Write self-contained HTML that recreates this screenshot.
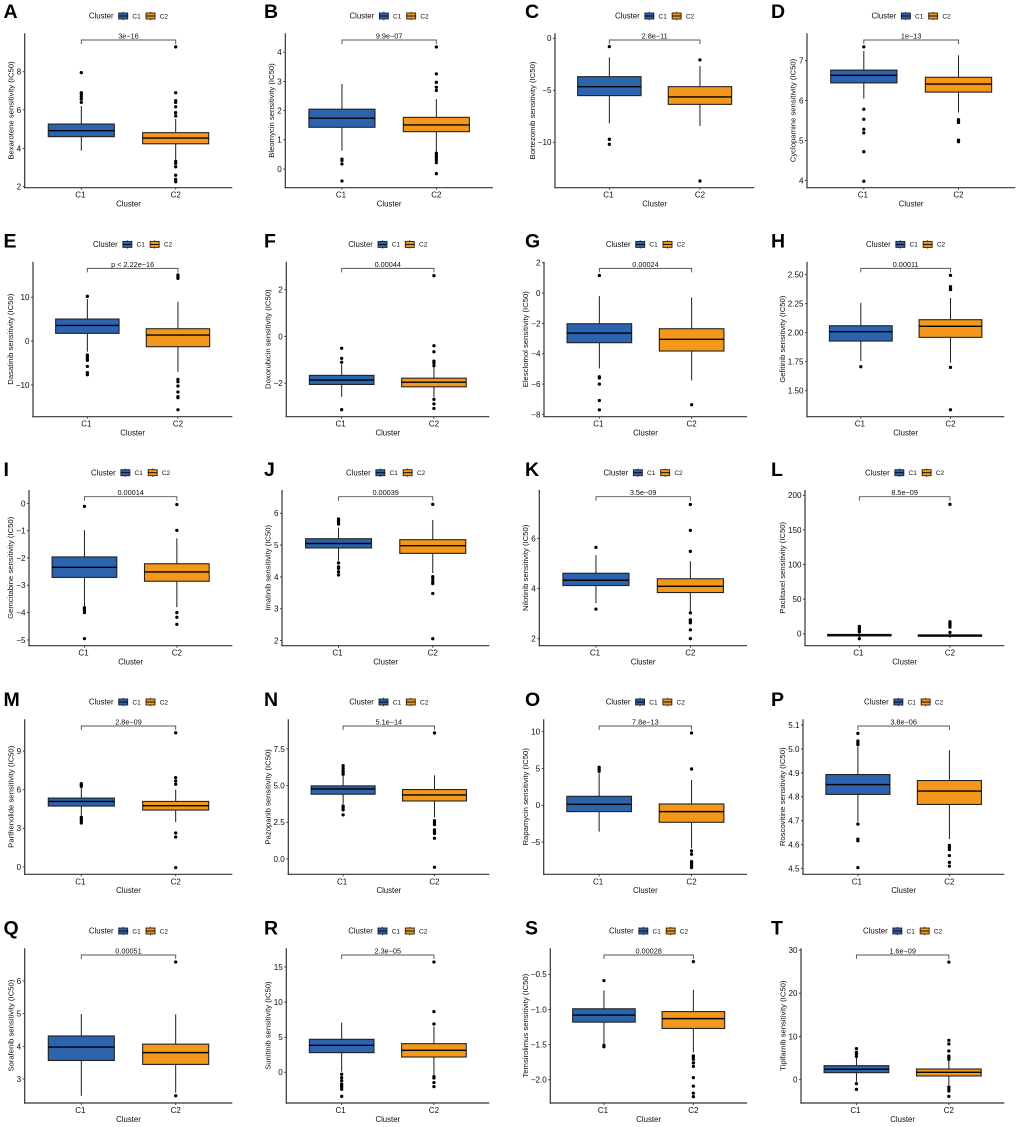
<!DOCTYPE html>
<html lang="en">
<head>
<meta charset="utf-8">
<title>Drug sensitivity (IC50) by cluster</title>
<style>
  html, body { margin: 0; padding: 0; background: #fff; }
  #figure { display: block; width: 1020px; height: 1127px; filter: blur(0.25px); }
  text { font-family: "Liberation Sans", sans-serif; fill: #0d0d0d; }
</style>
</head>
<body>
<svg id="figure" xmlns="http://www.w3.org/2000/svg" width="1020" height="1127" viewBox="0 0 1020 1127"></svg>
<script>
const categories = ['C1', 'C2'];
const panelLetters = ['A','B','C','D','E','F','G','H','I','J','K','L','M','N','O','P','Q','R','S','T'];
const drugNames = ['Bexarotene','Bleomycin','Bortezomib','Cyclopamine','Dasatinib','Doxorubicin','Elesclomol','Gefitinib','Gemcitabine','Imatinib','Nilotinib','Paclitaxel','Parthenolide','Pazopanib','Rapamycin','Roscovitine','Sorafenib','Sunitinib','Temsirolimus','Tipifarnib'];
const pValueLabels = ['3e-16','9.9e-07','2.8e-11','1e-13','p < 2.22e-16','0.00044','0.00024','0.00011','0.00014','0.00039','3.5e-09','8.5e-09','2.8e-09','5.1e-14','7.8e-13','3.8e-06','0.00051','2.3e-05','0.00028','1.6e-09'];
const yDomains = [
  [1.95,10.0],[-0.64,4.65],[-14.36,0.48],[3.82,7.68],
  [-17.26,18.1],[-3.44,3.2],[-8.15,2.07],[1.276,2.612],
  [-5.21,0.49],[1.84,6.73],[1.72,7.93],[-17.3,207.7],
  [-0.57,11.47],[-1.05,9.52],[-9.38,11.69],[4.476,5.124],
  [2.27,7.0],[-4.37,17.66],[-2.33,-0.13],[-5.4,30.4]
];
const yTicks = [
  ['2','4','6','8'],['0','1','2','3','4'],['-10','-5','0'],['4','5','6','7'],
  ['-10','0','10'],['-2','0','2'],['-8','-6','-4','-2','0','2'],['1.50','1.75','2.00','2.25','2.50'],
  ['-5','-4','-3','-2','-1','0'],['2','3','4','5','6'],['2','4','6'],['0','50','100','150','200'],
  ['0','3','6','9'],['0.0','2.5','5.0','7.5'],['-5','0','5','10'],['4.5','4.6','4.7','4.8','4.9','5.0','5.1'],
  ['3','4','5','6'],['0','5','10','15'],['-2.0','-1.5','-1.0','-0.5'],['0','10','20','30']
];
/* five-number summaries: whisker low, q1, median, q3, whisker high */
const c1Stats = [
  [3.88,4.61,4.92,5.27,6.21],[0.63,1.43,1.74,2.05,2.91],[-8.17,-5.51,-4.65,-3.69,-1.83],[6.05,6.44,6.63,6.76,7.24],
  [-2.43,1.75,3.57,5.02,9.58],[-2.59,-2.06,-1.87,-1.67,-1.2],[-4.97,-3.27,-2.64,-2.02,-0.2],[1.756,1.928,2.009,2.06,2.256],
  [-3.78,-2.71,-2.34,-1.96,-0.98],[4.51,4.91,5.05,5.2,5.55],[3.42,4.12,4.33,4.61,5.33],[-5,-3.2,-2,-1,1],
  [3.93,4.73,5.09,5.35,6.13],[3.75,4.41,4.77,4.98,5.66],[-3.58,-0.86,0.14,1.22,4.35],[4.697,4.81,4.851,4.893,5.01],
  [2.49,3.57,3.98,4.32,4.99],[0.09,2.8,3.84,4.7,7.07],[-1.49,-1.18,-1.08,-0.99,-0.73],[-0.46,1.62,2.39,3.24,5.09]
];
const c2Stats = [
  [3.39,4.24,4.54,4.82,5.53],[0.59,1.28,1.51,1.77,2.4],[-8.43,-6.35,-5.64,-4.65,-2.66],[5.7,6.21,6.41,6.58,7.13],
  [-7.0,-1.29,1.37,2.81,8.97],[-2.61,-2.16,-1.96,-1.79,-1.3],[-5.76,-3.82,-3.05,-2.35,-0.29],[1.741,1.96,2.055,2.112,2.299],
  [-3.8,-2.85,-2.51,-2.21,-1.28],[4.12,4.74,4.98,5.17,5.79],[3.07,3.84,4.09,4.39,5.09],[-6,-3.8,-2.7,-1.6,1],
  [3.49,4.42,4.76,5.09,6.0],[2.84,3.95,4.36,4.73,5.7],[-5.85,-2.31,-0.86,0.18,3.44],[4.623,4.768,4.824,4.868,4.995],
  [2.59,3.45,3.81,4.07,4.98],[-0.38,2.18,3.13,4.08,6.5],[-1.61,-1.27,-1.13,-1.03,-0.72],[-1.23,0.85,1.7,2.47,4.32]
];
const c1Outliers = [
  [7.95,6.9,6.82,6.7,6.57,6.4],
  [0.34,0.29,0.17,-0.41],
  [-0.8,-9.71,-10.19],
  [7.34,5.78,5.53,5.28,5.19,4.72,3.98],
  [10.2,-3.2,-3.65,-4.1,-4.4,-5.78,-7.2,-7.68],
  [-0.51,-0.94,-1.11,-3.14],
  [1.16,-5.52,-5.6,-6,-7.08,-7.7],
  [1.707],
  [-0.11,-3.82,-3.87,-3.93,-4,-4.95],
  [5.82,5.77,5.71,5.66,4.44,4.32,4.27,4.16,4.06],
  [5.64,3.18],
  [10.6,7.7,4.8,2.9,-7.2],
  [6.47,6.36,6.26,3.85,3.72,3.57,3.41],
  [6.36,6.18,6.02,5.89,5.77,3.61,3.48,3.34,3.0],
  [5.17,4.89,4.62],
  [5.065,5.033,5.026,5.018,4.686,4.623,4.616,4.504],
  [],
  [-0.28,-0.76,-1.19,-1.66,-1.85,-2.09,-2.42,-3.42],
  [-0.59,-1.51,-1.53],
  [7.17,6.32,5.94,5.4,-0.93,-2.24]
];
const c2Outliers = [
  [9.29,6.9,6.49,6.4,6.17,5.86,5.69,3.32,3.22,3.04,2.6,2.38,2.26],
  [4.18,3.26,2.97,2.8,2.69,0.54,0.46,0.39,0.31,0.22,-0.16],
  [-2.08,-13.72],
  [5.52,5.49,5.45,5.01,4.97],
  [15.06,14.68,14.3,-8.75,-9.28,-10.27,-11.63,-12.7,-12.93,-15.67],
  [-0.4,-0.66,-1.06,-1.14,-1.26,2.6,-2.7,-2.89,-3.09],
  [-7.36],
  [2.494,2.397,2.382,2.371,1.701,1.336],
  [-0.04,-0.99,-4,-4.17,-4.43],
  [6.28,4.01,3.94,3.85,3.79,3.48,2.06],
  [7.35,6.32,5.48,3.03,2.75,2.7,2.63,2.35,2],
  [187,17.3,14.9,12.5,9.6,1.9],
  [10.42,6.94,6.68,6.42,2.64,2.33,-0.05],
  [8.59,2.61,2.48,2.34,1.98,1.84,1.73,1.41,-0.57],
  [9.83,4.94,-6.2,-6.66,-7.66,-7.93,-8.2,-8.47],
  [4.597,4.589,4.579,4.554,4.526,4.51],
  [6.58,2.49],
  [15.71,8.64,6.88,-0.62,-0.81,-1.47,-2.04],
  [-0.32,-1.66,-1.68,-1.71,-1.76,-1.81,-1.97,-2.09,-2.19,-2.24],
  [27.2,9.1,8.25,6.63,5.47,5.09,4.7,-1.7,-2.16,-2.62,-3.86]
];

const SVG_NS = 'http://www.w3.org/2000/svg';
const root = document.getElementById('figure');
const FILLS = ['#2c63ae', '#f4981c'];
const INK = '#1c1c1c';

function layoutFor(i) {
  const tops = [33.3, 261.7, 490, 719.3, 948.3];
  const bottoms = [187.7, 416.7, 645.7, 874.3, 1103];
  const letterBase = [17.8, 247.5, 476.2, 706.2, 934.7];
  const letterX = [3.5, 264, 525, 771];
  const lefts = [24.7,285.3,555,807, 33,286.3,544,807, 29,282,539.3,805, 24.7,288.3,543.7,803, 24.7,286.3,550.3,801];
  const rights = [232.3,493,754.3,1015.3, 232.3,489.3,747,1004.3, 232.3,489.3,747,1004.3, 232.3,489.3,747,1004.3, 232.3,489.3,747,1004.3];
  const row = Math.floor(i / 4);
  const col = i % 4;
  return {
    top: tops[row], bottom: bottoms[row],
    left: lefts[i], right: rights[i],
    letterX: letterX[col], letterY: letterBase[row]
  };
}

function mk(tag, parent, attrs) {
  const node = document.createElementNS(SVG_NS, tag);
  for (const key in attrs) node.setAttribute(key, attrs[key]);
  parent.appendChild(node);
  return node;
}
function xScale(lay, catIndex) {
  const unit = (lay.right - lay.left) / 2.2;
  return lay.left + (catIndex + 0.6) * unit;
}
function boxHalf(lay) {
  return 0.35 * (lay.right - lay.left) / 2.2;
}
function yScale(lay, domain, v) {
  return lay.bottom - (v - domain[0]) / (domain[1] - domain[0]) * (lay.bottom - lay.top);
}
function pretty(s) {
  return s.replace(/-/g, '\u2212');
}
function labelEm(s) {
  let w = 0;
  for (const ch of s) w += ch === '.' ? 0.278 : (ch === '-' ? 0.584 : 0.556);
  return w;
}

function drawBox(g, lay, domain, catIndex, stats, outliers) {
  const cat = categories[catIndex].toLowerCase();
  const cx = xScale(lay, catIndex);
  const half = boxHalf(lay);
  const low = stats[0], q1 = stats[1], med = stats[2], q3 = stats[3], high = stats[4];

  const whisker = mk('line', g, { x1: cx, x2: cx, y1: yScale(lay, domain, low), y2: yScale(lay, domain, high), stroke: INK, 'stroke-width': 1 });
  
  

  outliers.forEach(function (v) {
    const dot = mk('circle', g, { cx: cx, cy: yScale(lay, domain, v), r: 1.65, fill: '#000' });
    
    
  });

  const yTop = yScale(lay, domain, q3);
  const yBottom = yScale(lay, domain, q1);
  const box = mk('rect', g, { x: cx - half, y: yTop, width: half * 2, height: yBottom - yTop, fill: FILLS[catIndex], stroke: '#222', 'stroke-width': 1.1 });
  
  

  const yMed = yScale(lay, domain, med);
  const median = mk('line', g, { x1: cx - half, x2: cx + half, y1: yMed, y2: yMed, stroke: '#000', 'stroke-width': 1.4 });
  
  
}

function drawLegend(g, lay) {
  const c = (lay.left + lay.right) / 2;
  const y = lay.top - 17.3;

  const title = mk('text', g, { x: c - 39.6, y: y + 2.7, 'font-size': 7.8 });
  title.textContent = 'Cluster';
  
  

  const offsets = [-9.8, 17.5];
  categories.forEach(function (name, k) {
    const x0 = c + offsets[k];
    const entry = mk('g', g, {});
    
    
    const stem = mk('line', entry, { x1: x0 + 4.5, x2: x0 + 4.5, y1: y - 4.2, y2: y + 4.2, stroke: INK, 'stroke-width': 0.8 });
    
    
    const key = mk('rect', entry, { x: x0, y: y - 3, width: 9, height: 6, fill: FILLS[k], stroke: '#222', 'stroke-width': 0.9 });
    
    
    const mid = mk('line', entry, { x1: x0, x2: x0 + 9, y1: y, y2: y, stroke: '#000', 'stroke-width': 0.9 });
    
    
    const label = mk('text', entry, { x: x0 + 13.7, y: y + 2.3, 'font-size': 6.5 });
    label.textContent = name;
    
    
  });
}

function drawBracket(g, lay, text) {
  const x1 = xScale(lay, 0);
  const x2 = xScale(lay, 1);
  const y = lay.top + 6.7;
  const path = mk('path', g, { d: 'M' + x1 + ' ' + (y + 4) + 'V' + y + 'H' + x2 + 'V' + (y + 4), fill: 'none', stroke: '#555', 'stroke-width': 0.95 });
  
  
  const p = mk('text', g, { x: (x1 + x2) / 2, y: y - 1.6, 'font-size': 7.3, 'text-anchor': 'middle' });
  p.textContent = pretty(text);
  
  
}

function drawAxes(g, lay, domain, ticks, drug) {
  const yAxis = mk('line', g, { x1: lay.left, x2: lay.left, y1: lay.top, y2: lay.bottom + 0.6, stroke: '#333', 'stroke-width': 1.2 });
  
  
  const xAxis = mk('line', g, { x1: lay.left - 0.6, x2: lay.right, y1: lay.bottom, y2: lay.bottom, stroke: '#333', 'stroke-width': 1.2 });
  
  

  let widest = 0;
  ticks.forEach(function (t) {
    widest = Math.max(widest, labelEm(t));
    const ty = yScale(lay, domain, parseFloat(t));
    const mark = mk('line', g, { x1: lay.left - 2, x2: lay.left, y1: ty, y2: ty, stroke: '#333', 'stroke-width': 0.9 });
    
    
    const lab = mk('text', g, { x: lay.left - 3.5, y: ty + 2.9, 'font-size': 8.1, 'text-anchor': 'end' });
    lab.textContent = pretty(t);
    
    
  });

  categories.forEach(function (name, k) {
    const tx = xScale(lay, k);
    const mark = mk('line', g, { x1: tx, x2: tx, y1: lay.bottom, y2: lay.bottom + 2, stroke: '#333', 'stroke-width': 0.9 });
    
    
    const lab = mk('text', g, { x: tx - (k === 0 ? 1 : 0), y: lay.bottom + 10, 'font-size': 8, 'text-anchor': 'middle' });
    lab.textContent = name;
    
    
  });

  const xTitle = mk('text', g, { x: (lay.left + lay.right) / 2, y: lay.bottom + 18.8, 'font-size': 7.8, 'text-anchor': 'middle' });
  xTitle.textContent = 'Cluster';
  
  

  const tx = lay.left - (9.7 + 7.8 * widest) + 2.7;
  const ty = (lay.top + lay.bottom) / 2;
  const yTitle = mk('text', g, { x: tx, y: ty, 'font-size': 7.7, 'text-anchor': 'middle', transform: 'rotate(-90 ' + tx + ' ' + ty + ')' });
  yTitle.textContent = drug + ' sensitivity (IC50)';
  
  
}

panelLetters.forEach(function (letter, i) {
  const lay = layoutFor(i);
  const domain = yDomains[i];
  const panel = mk('g', root, {});
  
  

  const tag = mk('text', panel, { x: lay.letterX, y: lay.letterY, 'font-size': 19.5, 'font-weight': 'bold' });
  tag.textContent = letter;
  tag.style.fill = '#000';
  
  

  drawLegend(panel, lay);
  drawBox(panel, lay, domain, 0, c1Stats[i], c1Outliers[i]);
  drawBox(panel, lay, domain, 1, c2Stats[i], c2Outliers[i]);
  drawBracket(panel, lay, pValueLabels[i]);
  drawAxes(panel, lay, domain, yTicks[i], drugNames[i]);
});
</script>
</body>
</html>
